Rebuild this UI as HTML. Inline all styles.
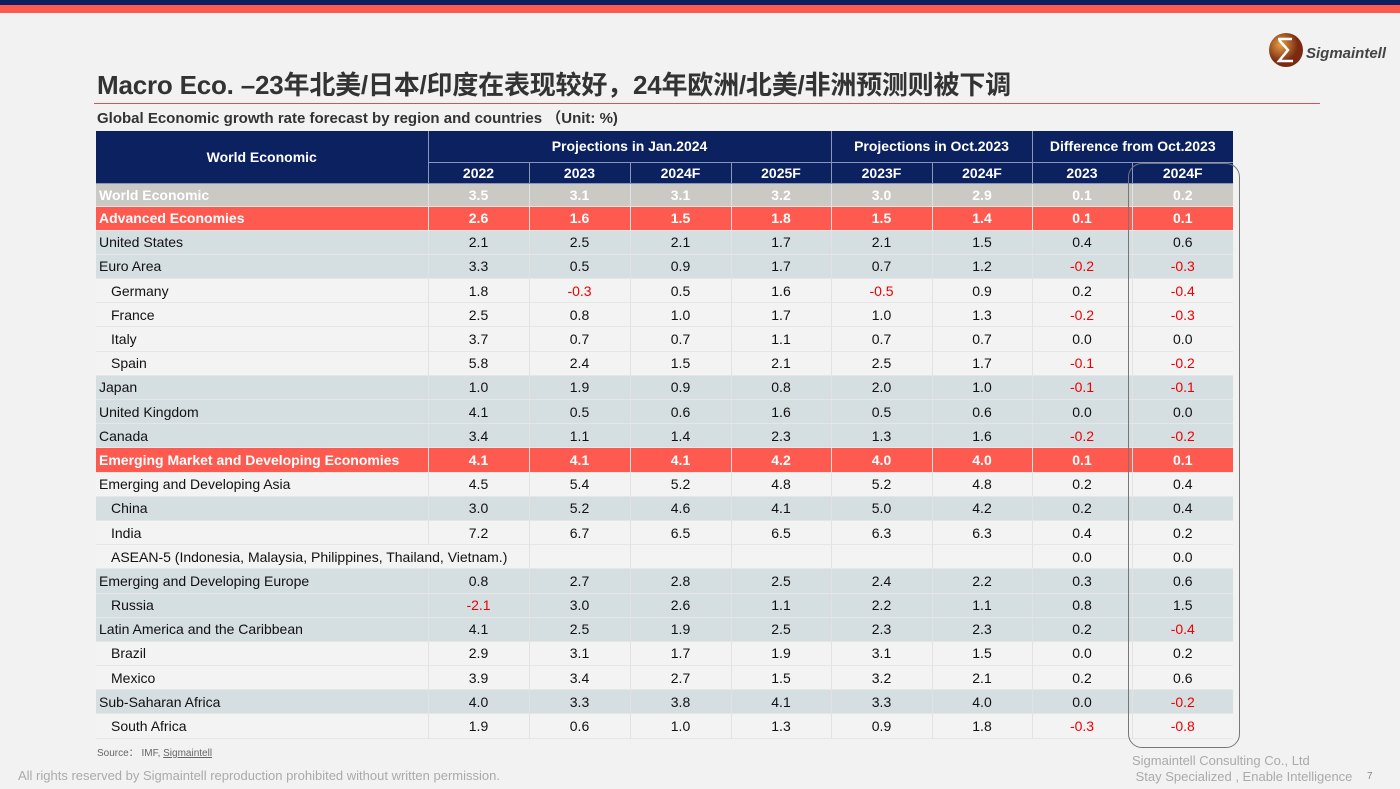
<!DOCTYPE html>
<html><head><meta charset="utf-8"><style>
body{margin:0;width:1400px;height:789px;background:#f2f2f2;position:relative;overflow:hidden;font-family:"Liberation Sans","Noto Sans CJK SC",sans-serif;}
.top1{position:absolute;left:0;top:0;width:1400px;height:5px;background:#0d1f5c}
.top2{position:absolute;left:0;top:5px;width:1400px;height:8px;background:#ff5a50}
.title{position:absolute;left:97px;top:65px;font-size:26px;font-weight:bold;color:#333;letter-spacing:-0.2px}
.rule{position:absolute;left:94px;top:103px;width:1226px;height:1px;background:#d9534f}
.sub{position:absolute;left:97px;top:107px;font-size:15px;font-weight:bold;color:#333}
table{position:absolute;left:96px;top:131px;border-collapse:collapse;table-layout:fixed;font-size:14px;color:#111}
td{padding:0;text-align:center;border-left:1px solid #e2e2e2;border-bottom:1px solid #e6e6e6;white-space:nowrap;overflow:hidden}
td.f{text-align:left;padding-left:3px;border-left:none}
.h td{background:#0c2160;color:#fff;font-weight:bold;border-color:#8a96b8}
tr{height:24.2px}
.w td{background:#cbc9c4;color:#fff;font-weight:bold}
.r td{background:#ff5a50;color:#fff;font-weight:bold}
.b td{background:#d5dee1}
.l td{background:#f3f3f3}
td.i{padding-left:15px}
.n{color:#e00}
.box{position:absolute;left:1128px;top:163px;width:110px;height:583px;border:1px solid #777;border-radius:14px}
.src{position:absolute;left:97px;top:744px;font-size:10px;color:#666}
.foot{position:absolute;left:18px;top:768px;font-size:13px;color:#aaa}
.co{position:absolute;left:1132px;top:753px;font-size:13px;color:#aaa;line-height:16px}
.pg{position:absolute;left:1367px;top:771px;font-size:10px;color:#888}
</style></head><body>
<div class="top1"></div><div class="top2"></div>
<svg style="position:absolute;left:1266px;top:30px" width="40" height="40"><defs><radialGradient id="g" cx="35%" cy="35%"><stop offset="0" stop-color="#e8a048"/><stop offset="1" stop-color="#7a2a10"/></radialGradient></defs><circle cx="20" cy="20" r="17" fill="url(#g)"/><path d="M12 9 L26 9 M13 10 L22 20 L13 31 L27 31" stroke="#fff" stroke-width="2.5" fill="none"/></svg>
<div style="position:absolute;left:1306px;top:45px;font-size:15px;font-style:italic;font-weight:bold;color:#444">Sigmaintell</div>
<div class="title">Macro Eco. –23年北美/日本/印度在表现较好，24年欧洲/北美/非洲预测则被下调</div>
<div class="rule"></div>
<div class="sub">Global Economic growth rate forecast by region and countries （Unit: %)</div>
<table>
<colgroup><col style="width:332px"><col style="width:101px"><col style="width:101px"><col style="width:101px"><col style="width:100px"><col style="width:101px"><col style="width:100px"><col style="width:100px"><col style="width:101px"></colgroup>
<tr class="h" style="height:31px"><td rowspan="2" style="text-align:center;font-size:14px;border-left:none">World Economic</td><td colspan="4">Projections in Jan.2024</td><td colspan="2">Projections in Oct.2023</td><td colspan="2">Difference from Oct.2023</td></tr>
<tr class="h" style="height:21px"><td>2022</td><td>2023</td><td>2024F</td><td>2025F</td><td>2023F</td><td>2024F</td><td>2023</td><td>2024F</td></tr>
<tr class="w" style="height:23px"><td class="f">World Economic</td><td>3.5</td><td>3.1</td><td>3.1</td><td>3.2</td><td>3.0</td><td>2.9</td><td>0.1</td><td>0.2</td></tr>
<tr class="r"><td class="f">Advanced Economies</td><td>2.6</td><td>1.6</td><td>1.5</td><td>1.8</td><td>1.5</td><td>1.4</td><td>0.1</td><td>0.1</td></tr>
<tr class="b"><td class="f">United States</td><td>2.1</td><td>2.5</td><td>2.1</td><td>1.7</td><td>2.1</td><td>1.5</td><td>0.4</td><td>0.6</td></tr>
<tr class="b"><td class="f">Euro Area</td><td>3.3</td><td>0.5</td><td>0.9</td><td>1.7</td><td>0.7</td><td>1.2</td><td class="n">-0.2</td><td class="n">-0.3</td></tr>
<tr class="l"><td class="f i">Germany</td><td>1.8</td><td class="n">-0.3</td><td>0.5</td><td>1.6</td><td class="n">-0.5</td><td>0.9</td><td>0.2</td><td class="n">-0.4</td></tr>
<tr class="l"><td class="f i">France</td><td>2.5</td><td>0.8</td><td>1.0</td><td>1.7</td><td>1.0</td><td>1.3</td><td class="n">-0.2</td><td class="n">-0.3</td></tr>
<tr class="l"><td class="f i">Italy</td><td>3.7</td><td>0.7</td><td>0.7</td><td>1.1</td><td>0.7</td><td>0.7</td><td>0.0</td><td>0.0</td></tr>
<tr class="l"><td class="f i">Spain</td><td>5.8</td><td>2.4</td><td>1.5</td><td>2.1</td><td>2.5</td><td>1.7</td><td class="n">-0.1</td><td class="n">-0.2</td></tr>
<tr class="b"><td class="f">Japan</td><td>1.0</td><td>1.9</td><td>0.9</td><td>0.8</td><td>2.0</td><td>1.0</td><td class="n">-0.1</td><td class="n">-0.1</td></tr>
<tr class="b"><td class="f">United Kingdom</td><td>4.1</td><td>0.5</td><td>0.6</td><td>1.6</td><td>0.5</td><td>0.6</td><td>0.0</td><td>0.0</td></tr>
<tr class="b"><td class="f">Canada</td><td>3.4</td><td>1.1</td><td>1.4</td><td>2.3</td><td>1.3</td><td>1.6</td><td class="n">-0.2</td><td class="n">-0.2</td></tr>
<tr class="r"><td class="f">Emerging Market and Developing Economies</td><td>4.1</td><td>4.1</td><td>4.1</td><td>4.2</td><td>4.0</td><td>4.0</td><td>0.1</td><td>0.1</td></tr>
<tr class="l"><td class="f">Emerging and Developing Asia</td><td>4.5</td><td>5.4</td><td>5.2</td><td>4.8</td><td>5.2</td><td>4.8</td><td>0.2</td><td>0.4</td></tr>
<tr class="b"><td class="f i">China</td><td>3.0</td><td>5.2</td><td>4.6</td><td>4.1</td><td>5.0</td><td>4.2</td><td>0.2</td><td>0.4</td></tr>
<tr class="l"><td class="f i">India</td><td>7.2</td><td>6.7</td><td>6.5</td><td>6.5</td><td>6.3</td><td>6.3</td><td>0.4</td><td>0.2</td></tr>
<tr class="l"><td class="f i" colspan="2" style="overflow:visible">ASEAN-5 (Indonesia, Malaysia, Philippines, Thailand, Vietnam.)</td><td></td><td></td><td></td><td></td><td></td><td>0.0</td><td>0.0</td></tr>
<tr class="b"><td class="f">Emerging and Developing Europe</td><td>0.8</td><td>2.7</td><td>2.8</td><td>2.5</td><td>2.4</td><td>2.2</td><td>0.3</td><td>0.6</td></tr>
<tr class="b"><td class="f i">Russia</td><td class="n">-2.1</td><td>3.0</td><td>2.6</td><td>1.1</td><td>2.2</td><td>1.1</td><td>0.8</td><td>1.5</td></tr>
<tr class="b"><td class="f">Latin America and the Caribbean</td><td>4.1</td><td>2.5</td><td>1.9</td><td>2.5</td><td>2.3</td><td>2.3</td><td>0.2</td><td class="n">-0.4</td></tr>
<tr class="l"><td class="f i">Brazil</td><td>2.9</td><td>3.1</td><td>1.7</td><td>1.9</td><td>3.1</td><td>1.5</td><td>0.0</td><td>0.2</td></tr>
<tr class="l"><td class="f i">Mexico</td><td>3.9</td><td>3.4</td><td>2.7</td><td>1.5</td><td>3.2</td><td>2.1</td><td>0.2</td><td>0.6</td></tr>
<tr class="b"><td class="f">Sub-Saharan Africa</td><td>4.0</td><td>3.3</td><td>3.8</td><td>4.1</td><td>3.3</td><td>4.0</td><td>0.0</td><td class="n">-0.2</td></tr>
<tr class="l"><td class="f i">South Africa</td><td>1.9</td><td>0.6</td><td>1.0</td><td>1.3</td><td>0.9</td><td>1.8</td><td class="n">-0.3</td><td class="n">-0.8</td></tr>
</table>
<div class="box"></div>
<div class="src">Source： IMF, <u>Sigmaintell</u></div>
<div class="foot">All rights reserved by Sigmaintell reproduction prohibited without written permission.</div>
<div class="co">Sigmaintell Consulting Co., Ltd<br>&nbsp;Stay Specialized , Enable Intelligence</div>
<div class="pg">7</div>
</body></html>
